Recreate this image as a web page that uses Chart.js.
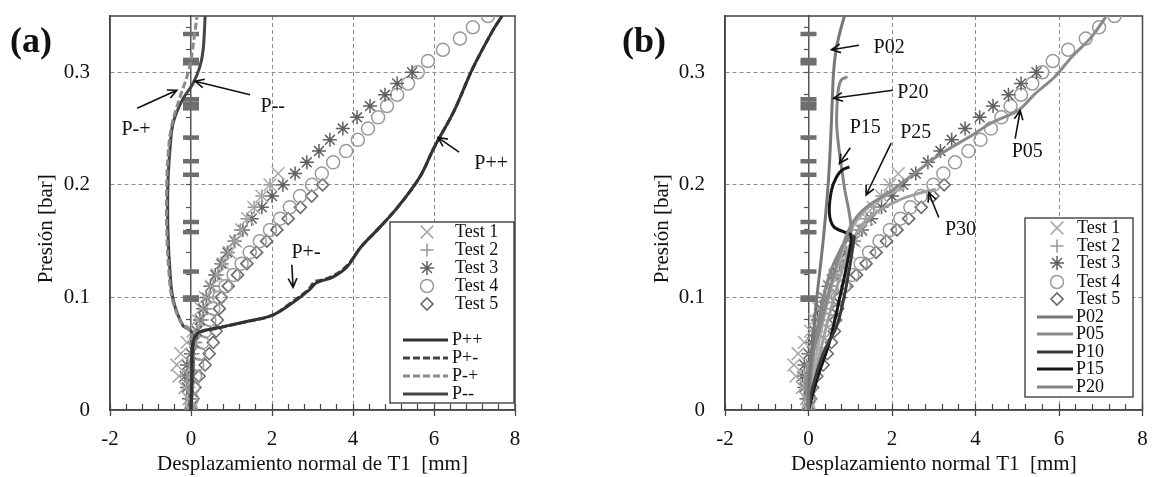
<!DOCTYPE html>
<html>
<head>
<meta charset="utf-8">
<script src="https://cdn.jsdelivr.net/npm/chart.js@4.4.1/dist/chart.umd.min.js"></script>
<style>
  body { margin: 0; background: #fff; width: 1155px; height: 477px; position: relative; overflow: hidden; }
  canvas { position: absolute; top: 0; }
  #ca { left: 0; }
  #cb { left: 580px; }
  .tag { position: absolute; top: 22px; font: bold 36px "Liberation Serif", serif; line-height: 36px; color: #111; }
</style>
</head>
<body>
<canvas id="ca" width="565" height="477"></canvas>
<canvas id="cb" width="575" height="477"></canvas>
<div class="tag" style="left:10px">(a)</div>
<div class="tag" style="left:622px">(b)</div>
<script>
// ticks
const xTicks = [-2, 0, 2, 4, 6, 8];
const yTicks = [0, 0.1, 0.2, 0.3];
const xMinor = [-2, -1.6, -1.2, -0.8, -0.4, 0, 0.4, 0.8, 1.2, 1.6, 2, 2.4, 2.8, 3.2, 3.6, 4, 4.4, 4.8, 5.2, 5.6, 6, 6.4, 6.8, 7.2, 7.6, 8];
const yMinor = [0, 0.02, 0.04, 0.06, 0.08, 0.1, 0.12, 0.14, 0.16, 0.18, 0.2, 0.22, 0.24, 0.26, 0.28, 0.3, 0.32, 0.34];

// ensayos (mismos en los dos paneles)
const test1Y = [0, 0.01, 0.02, 0.03, 0.04, 0.05, 0.06, 0.07, 0.08, 0.09, 0.1, 0.11, 0.12, 0.13, 0.14, 0.15, 0.16, 0.17, 0.18, 0.19, 0.2, 0.21];
const test1X = [0, -0.05, -0.15, -0.3, -0.35, -0.25, -0.1, 0.05, 0.15, 0.25, 0.35, 0.5, 0.65, 0.8, 0.95, 1.1, 1.25, 1.4, 1.55, 1.75, 1.95, 2.15];
const test2Y = [0, 0.01, 0.02, 0.03, 0.04, 0.05, 0.06, 0.07, 0.08, 0.09, 0.1, 0.11, 0.12, 0.13, 0.14, 0.15, 0.16, 0.17, 0.18, 0.19, 0.2];
const test2X = [0, 0, -0.05, -0.1, -0.05, 0.05, 0.12, 0.2, 0.28, 0.36, 0.45, 0.55, 0.66, 0.78, 0.92, 1.06, 1.22, 1.38, 1.56, 1.75, 1.95];
const test3Y = [0, 0.01, 0.02, 0.03, 0.04, 0.05, 0.06, 0.07, 0.08, 0.09, 0.1, 0.11, 0.12, 0.13, 0.14, 0.15, 0.16, 0.17, 0.18, 0.19, 0.2, 0.21, 0.22, 0.23, 0.24, 0.25, 0.26, 0.27, 0.28, 0.29, 0.3];
const test3X = [0, -0.05, -0.1, -0.15, -0.1, 0, 0.08, 0.15, 0.22, 0.3, 0.38, 0.48, 0.6, 0.75, 0.9, 1.08, 1.28, 1.5, 1.75, 2.0, 2.27, 2.57, 2.86, 3.16, 3.43, 3.75, 4.1, 4.42, 4.79, 5.09, 5.46];
const test4Y = [0, 0.01, 0.02, 0.03, 0.04, 0.05, 0.06, 0.07, 0.08, 0.09, 0.1, 0.11, 0.12, 0.13, 0.14, 0.15, 0.16, 0.17, 0.18, 0.19, 0.2, 0.21, 0.22, 0.23, 0.24, 0.25, 0.26, 0.27, 0.28, 0.29, 0.3, 0.31, 0.32, 0.33, 0.34, 0.35];
const test4X = [0, 0.02, 0.05, 0.1, 0.15, 0.2, 0.28, 0.35, 0.45, 0.55, 0.7, 0.85, 1.05, 1.25, 1.45, 1.7, 1.95, 2.2, 2.44, 2.69, 2.99, 3.23, 3.51, 3.83, 4.12, 4.37, 4.62, 4.84, 5.09, 5.36, 5.6, 5.85, 6.22, 6.64, 6.96, 7.33];
const test5Y = [0, 0.01, 0.02, 0.03, 0.04, 0.05, 0.06, 0.07, 0.08, 0.09, 0.1, 0.11, 0.12, 0.13, 0.14, 0.15, 0.16, 0.17, 0.18, 0.19, 0.2];
const test5X = [0, 0.05, 0.1, 0.2, 0.35, 0.45, 0.55, 0.62, 0.65, 0.7, 0.75, 0.92, 1.15, 1.38, 1.62, 1.87, 2.12, 2.4, 2.7, 2.98, 3.25];

// marcas sobre el eje x = 0
const marcasY = [0.098, 0.1, 0.123, 0.158, 0.167, 0.209, 0.221, 0.242, 0.268, 0.272, 0.276, 0.308, 0.311, 0.334];
const marcasX = [0, 0, 0, 0, 0, 0, 0, 0, 0, 0, 0, 0, 0, 0];

// panel (a)
const ppX = [0, 0.02, 0.05, 0.2, 0.67, 1.3, 2.0, 2.5, 2.9, 3.1, 3.5, 3.85, 4.2, 4.6, 5.1, 5.65, 6.0, 6.5, 6.95, 7.45, 7.68];
const ppY = [0, 0.03, 0.06, 0.069, 0.073, 0.078, 0.084, 0.095, 0.106, 0.113, 0.118, 0.127, 0.145, 0.16, 0.18, 0.207, 0.233, 0.266, 0.303, 0.337, 0.35];
const pmX = [0, 0.02, 0.06, 0.22, 0.7, 1.3, 2.0, 2.5, 2.9, 3.05, 3.2, 3.5, 3.85, 4.2, 4.6, 5.1, 5.65, 6.0, 6.5, 6.95, 7.45, 7.68];
const pmY = [0, 0.03, 0.06, 0.069, 0.073, 0.078, 0.084, 0.096, 0.107, 0.114, 0.115, 0.119, 0.128, 0.145, 0.16, 0.18, 0.207, 0.233, 0.266, 0.303, 0.337, 0.35];
const mpX = [0, 0.05, 0.05, -0.02, -0.25, -0.47, -0.55, -0.6, -0.6, -0.56, -0.48, -0.3, -0.1, 0.0, 0.1, 0.15];
const mpY = [0, 0.03, 0.06, 0.07, 0.078, 0.1, 0.125, 0.16, 0.2, 0.23, 0.252, 0.275, 0.296, 0.311, 0.337, 0.35];
const mmX = [0, 0.05, 0.05, 0, -0.2, -0.44, -0.52, -0.57, -0.57, -0.52, -0.44, -0.22, 0.05, 0.22, 0.3, 0.35];
const mmY = [0, 0.03, 0.06, 0.07, 0.075, 0.098, 0.124, 0.16, 0.2, 0.231, 0.255, 0.275, 0.29, 0.305, 0.32, 0.35];

// panel (b)
const p02X = [0, 0.02, 0.1, 0.2, 0.35, 0.47, 0.53, 0.57, 0.6, 0.66, 0.75, 0.86];
const p02Y = [0, 0.03, 0.06, 0.1, 0.15, 0.2, 0.24, 0.275, 0.3, 0.32, 0.335, 0.35];
const p05X = [0, -0.05, 0.26, 0.57, 0.81, 1.05, 1.38, 2.0, 2.64, 3.19, 3.83, 4.38, 5.02, 5.43, 5.9, 6.29, 6.77, 7.12];
const p05Y = [0, 0.027, 0.071, 0.115, 0.145, 0.166, 0.18, 0.195, 0.213, 0.228, 0.242, 0.255, 0.266, 0.281, 0.296, 0.313, 0.331, 0.349];
const p10X = [0, 0.1, 0.35, 0.67, 0.85, 1.0, 1.1];
const p10Y = [0, 0.02, 0.05, 0.074, 0.1, 0.13, 0.155];
const p15X = [0, 0.2, 0.5, 0.75, 0.95, 1.02, 0.86, 0.6, 0.5, 0.55, 0.67, 0.8, 0.98];
const p15Y = [0, 0.027, 0.06, 0.1, 0.135, 0.155, 0.158, 0.163, 0.175, 0.195, 0.207, 0.213, 0.216];
const p20X = [0, 0.05, 0.25, 0.5, 0.8, 1.02, 0.85, 0.68, 0.7, 0.78, 0.93];
const p20Y = [0, 0.03, 0.08, 0.12, 0.145, 0.158, 0.2, 0.25, 0.28, 0.293, 0.296];
const p25X = [0, 0.1, 0.3, 0.55, 0.8, 1.1, 1.5, 2.0, 2.3];
const p25Y = [0, 0.03, 0.07, 0.11, 0.14, 0.165, 0.182, 0.193, 0.197];
const p30X = [0, 0.15, 0.4, 0.65, 0.9, 1.2, 1.6, 2.2, 2.6, 2.9, 3.05];
const p30Y = [0, 0.03, 0.07, 0.105, 0.135, 0.16, 0.175, 0.187, 0.192, 0.195, 0.196];

const F = '"Liberation Serif", "Times New Roman", serif';
const pts = (xs, ys) => xs.map((x, i) => ({ x: x, y: ys[i] }));

function marks(label, xs, ys, style, r, color, bw) {
  return { label: label, data: pts(xs, ys), showLine: false, pointStyle: style, pointRadius: r, pointHoverRadius: r,
    pointBorderColor: color, pointBackgroundColor: 'rgba(0,0,0,0)', pointBorderWidth: bw,
    borderColor: color, backgroundColor: 'rgba(0,0,0,0)', order: 1 };
}
function curve(label, xs, ys, color, w, dash) {
  return { label: label, data: pts(xs, ys), showLine: true, pointRadius: 0, borderColor: color, borderWidth: w,
    borderDash: dash || [], tension: 0.35, fill: false, order: 0 };
}
function tests() {
  return [
    marks('Test 1', test1X, test1Y, 'crossRot', 9, '#a8a8a8', 1.5),
    marks('Test 2', test2X, test2Y, 'cross', 6.5, '#959595', 1.5),
    marks('Test 3', test3X, test3Y, 'star', 7, '#606060', 1.5),
    marks('Test 4', test4X, test4Y, 'circle', 6.5, '#9a9a9a', 1.5),
    marks('Test 5', test5X, test5Y, 'rectRot', 6, '#6a6a6a', 1.6)
  ];
}
function dashes() {
  const d = marks('', marcasX, marcasY, 'line', 8, '#6e6e6e', 4.5);
  d.order = 2;
  return d;
}

const hide = (vals) => (c) => (c.tick && vals.includes(c.tick.value)) ? 'rgba(0,0,0,0)' : '#8c8c8c';

const framePlugin = {
  id: 'frame',
  beforeDatasetsDraw(chart) {
    const { ctx, chartArea: a } = chart;
    ctx.save();
    ctx.strokeStyle = '#444';
    ctx.lineWidth = 1.5;
    ctx.strokeRect(a.left, a.top, a.right - a.left, a.bottom - a.top);
    ctx.restore();
  }
};

const notesPlugin = {
  id: 'notes',
  afterDatasetsDraw(chart, args, o) {
    const { ctx, scales } = chart;
    const sx = scales.x, sy = scales.y;
    ctx.save();
    ctx.font = '20px ' + F;
    ctx.fillStyle = '#111';
    ctx.strokeStyle = '#111';
    ctx.lineWidth = 1.6;
    ctx.textAlign = 'center';
    ctx.textBaseline = 'middle';
    o.items.forEach(n => {
      ctx.fillText(n.t, sx.getPixelForValue(n.x), sy.getPixelForValue(n.y));
      const x1 = sx.getPixelForValue(n.fx), y1 = sy.getPixelForValue(n.fy);
      const x2 = sx.getPixelForValue(n.tx), y2 = sy.getPixelForValue(n.ty);
      const a = Math.atan2(y2 - y1, x2 - x1), h = 10;
      ctx.beginPath();
      ctx.moveTo(x1, y1);
      ctx.lineTo(x2, y2);
      ctx.moveTo(x2 - h * Math.cos(a - 0.45), y2 - h * Math.sin(a - 0.45));
      ctx.lineTo(x2, y2);
      ctx.lineTo(x2 - h * Math.cos(a + 0.45), y2 - h * Math.sin(a + 0.45));
      ctx.stroke();
    });
    ctx.restore();
  }
};

const boxPlugin = {
  id: 'box',
  afterDraw(chart, args, o) {
    const ctx = chart.ctx;
    ctx.save();
    ctx.fillStyle = '#fff';
    ctx.fillRect(o.x1, o.y1, o.x2 - o.x1, o.y2 - o.y1);
    ctx.strokeStyle = '#222';
    ctx.lineWidth = 1.2;
    ctx.strokeRect(o.x1, o.y1, o.x2 - o.x1, o.y2 - o.y1);
    ctx.font = '18px ' + F;
    ctx.textBaseline = 'middle';
    ctx.textAlign = 'left';
    o.rows.forEach(r => {
      const d = chart.data.datasets[r.i];
      if (d.showLine) {
        ctx.save();
        ctx.strokeStyle = d.borderColor;
        ctx.lineWidth = d.borderWidth;
        ctx.setLineDash(d.borderDash || []);
        ctx.beginPath();
        ctx.moveTo(o.lx1, r.y);
        ctx.lineTo(o.lx2, r.y);
        ctx.stroke();
        ctx.restore();
        ctx.fillStyle = '#111';
        ctx.fillText(d.label, o.ltx, r.y);
      } else {
        ctx.save();
        ctx.strokeStyle = d.pointBorderColor;
        ctx.fillStyle = 'rgba(0,0,0,0)';
        ctx.lineWidth = d.pointBorderWidth;
        Chart.helpers.drawPoint(ctx, { pointStyle: d.pointStyle, radius: d.pointRadius, borderWidth: d.pointBorderWidth, rotation: 0 }, o.mx, r.y);
        ctx.restore();
        ctx.fillStyle = '#111';
        ctx.fillText(d.label, o.tx, r.y);
      }
    });
    ctx.restore();
  }
};

function options(p) {
  return {
    responsive: false, animation: false, events: [],
    layout: { padding: { left: 0, right: p.padRight, top: 16, bottom: 0 } },
    plugins: { legend: { display: false }, tooltip: { enabled: false }, box: p.box, notes: { items: p.notes } },
    scales: {
      x: { type: 'linear', axis: 'x', position: 'bottom', min: -2, max: 8,
        afterBuildTicks: s => { s.ticks = xTicks.map(v => ({ value: v })); },
        afterFit: s => { s.height = 67; s.paddingLeft = 0; s.paddingRight = 0; },
        ticks: { font: { family: F, size: 21 }, color: '#111', padding: 11, maxRotation: 0 },
        grid: { color: hide([-2, 0, 8]), lineWidth: 1, tickColor: '#444', tickLength: 6, tickWidth: 1.3 },
        border: { color: '#444', width: 1.5, dash: [4, 3] },
        title: { display: true, text: p.xTitle, font: { family: F, size: 21 }, color: '#111', padding: { top: 0, bottom: 0 } } },
      y: { type: 'linear', axis: 'y', position: 'left', min: 0, max: 0.35,
        afterBuildTicks: s => { s.ticks = yTicks.map(v => ({ value: v })); },
        afterFit: s => { s.width = p.yWidth; s.paddingTop = 0; s.paddingBottom = 0; },
        ticks: { font: { family: F, size: 21 }, color: '#111', padding: 20 },
        grid: { color: hide([0]), lineWidth: 1, drawTicks: false },
        border: { color: '#444', width: 1.5, dash: [4, 3] },
        title: { display: true, text: 'Presión [bar]      ', font: { family: F, size: 21 }, color: '#111', padding: { top: p.yTitlePad, bottom: 0 } } },
      xm: { type: 'linear', axis: 'x', position: { y: 0 }, min: -2, max: 8,
        afterBuildTicks: s => { s.ticks = xMinor.map(v => ({ value: v })); },
        afterFit: s => { s.paddingLeft = 0; s.paddingRight = 0; s.paddingTop = 0; s.paddingBottom = 0; },
        ticks: { display: false, autoSkip: false },
        grid: { drawOnChartArea: false, tickLength: -6, tickColor: '#444', tickWidth: 1.2 },
        border: { display: false } },
      y0: { type: 'linear', axis: 'y', position: { x: 0 }, min: 0, max: 0.35,
        afterBuildTicks: s => { s.ticks = yMinor.map(v => ({ value: v })); },
        afterFit: s => { s.paddingLeft = 0; s.paddingRight = 0; s.paddingTop = 0; s.paddingBottom = 0; },
        ticks: { display: false, autoSkip: false },
        grid: { drawOnChartArea: false, tickLength: 4, tickColor: '#555', tickWidth: 1.2 },
        border: { display: true, color: '#555', width: 1.5 } }
    }
  };
}

function axesIds(list) {
  list.forEach(d => { d.xAxisID = 'x'; d.yAxisID = 'y'; });
  return list;
}

// (a)
const setsA = axesIds(tests().concat([
  curve('P++', ppX, ppY, '#333', 3),
  curve('P+-', pmX, pmY, '#444', 3, [7, 3]),
  curve('P-+', mpX, mpY, '#8a8a8a', 3, [7, 3]),
  curve('P--', mmX, mmY, '#444', 3),
  dashes()
]));
new Chart(document.getElementById('ca'), {
  type: 'scatter',
  data: { datasets: setsA },
  options: options({
    padRight: 50, yWidth: 110, yTitlePad: 34,
    xTitle: 'Desplazamiento normal de T1  [mm]',
    box: { x1: 390, y1: 222, x2: 514, y2: 403, mx: 427, tx: 455, lx1: 403, lx2: 448, ltx: 452,
      rows: [{ i: 0, y: 232 }, { i: 1, y: 250 }, { i: 2, y: 268 }, { i: 3, y: 286 }, { i: 4, y: 304 },
             { i: 5, y: 340 }, { i: 6, y: 358 }, { i: 7, y: 376 }, { i: 8, y: 394 }] },
    notes: [
      { t: 'P-+', x: -1.36, y: 0.249, fx: -1.33, fy: 0.268, tx: -0.35, ty: 0.284 },
      { t: 'P--', x: 2.02, y: 0.269, fx: 1.46, fy: 0.28, tx: 0.1, ty: 0.292 },
      { t: 'P++', x: 7.41, y: 0.219, fx: 6.62, fy: 0.229, tx: 6.1, ty: 0.242 },
      { t: 'P+-', x: 2.84, y: 0.14, fx: 2.49, fy: 0.129, tx: 2.52, ty: 0.109 }
    ]
  }),
  plugins: [framePlugin, notesPlugin, boxPlugin]
});

// (b)
const setsB = axesIds(tests().concat([
  curve('P02', p02X, p02Y, '#777', 3),
  curve('P05', p05X, p05Y, '#8a8a8a', 3),
  curve('P10', p10X, p10Y, '#3a3a3a', 3),
  curve('P15', p15X, p15Y, '#151515', 3),
  curve('P20', p20X, p20Y, '#858585', 3),
  curve('P25', p25X, p25Y, '#ababab', 3),
  curve('P30', p30X, p30Y, '#a0a0a0', 3),
  dashes()
]));
new Chart(document.getElementById('cb'), {
  type: 'scatter',
  data: { datasets: setsB },
  options: options({
    padRight: 10, yWidth: 145, yTitlePad: 70,
    xTitle: 'Desplazamiento normal T1  [mm]',
    box: { x1: 445, y1: 218, x2: 553, y2: 397, mx: 477, tx: 497, lx1: 457, lx2: 493, ltx: 496,
      rows: [{ i: 0, y: 228 }, { i: 1, y: 246 }, { i: 2, y: 263 }, { i: 3, y: 282 }, { i: 4, y: 299 },
             { i: 5, y: 317 }, { i: 6, y: 334 }, { i: 7, y: 352 }, { i: 8, y: 369 }, { i: 9, y: 387 }] },
    notes: [
      { t: 'P02', x: 1.93, y: 0.322, fx: 1.21, fy: 0.324, tx: 0.55, ty: 0.32 },
      { t: 'P20', x: 2.5, y: 0.282, fx: 2.02, fy: 0.284, tx: 0.6, ty: 0.277 },
      { t: 'P15', x: 1.36, y: 0.251, fx: 1.0, fy: 0.233, tx: 0.74, ty: 0.219 },
      { t: 'P25', x: 2.57, y: 0.246, fx: 1.98, fy: 0.237, tx: 1.38, ty: 0.191 },
      { t: 'P05', x: 5.24, y: 0.229, fx: 4.95, fy: 0.241, tx: 5.07, ty: 0.266 },
      { t: 'P30', x: 3.64, y: 0.16, fx: 3.12, fy: 0.171, tx: 2.88, ty: 0.193 }
    ]
  }),
  plugins: [framePlugin, notesPlugin, boxPlugin]
});
</script>
</body>
</html>
